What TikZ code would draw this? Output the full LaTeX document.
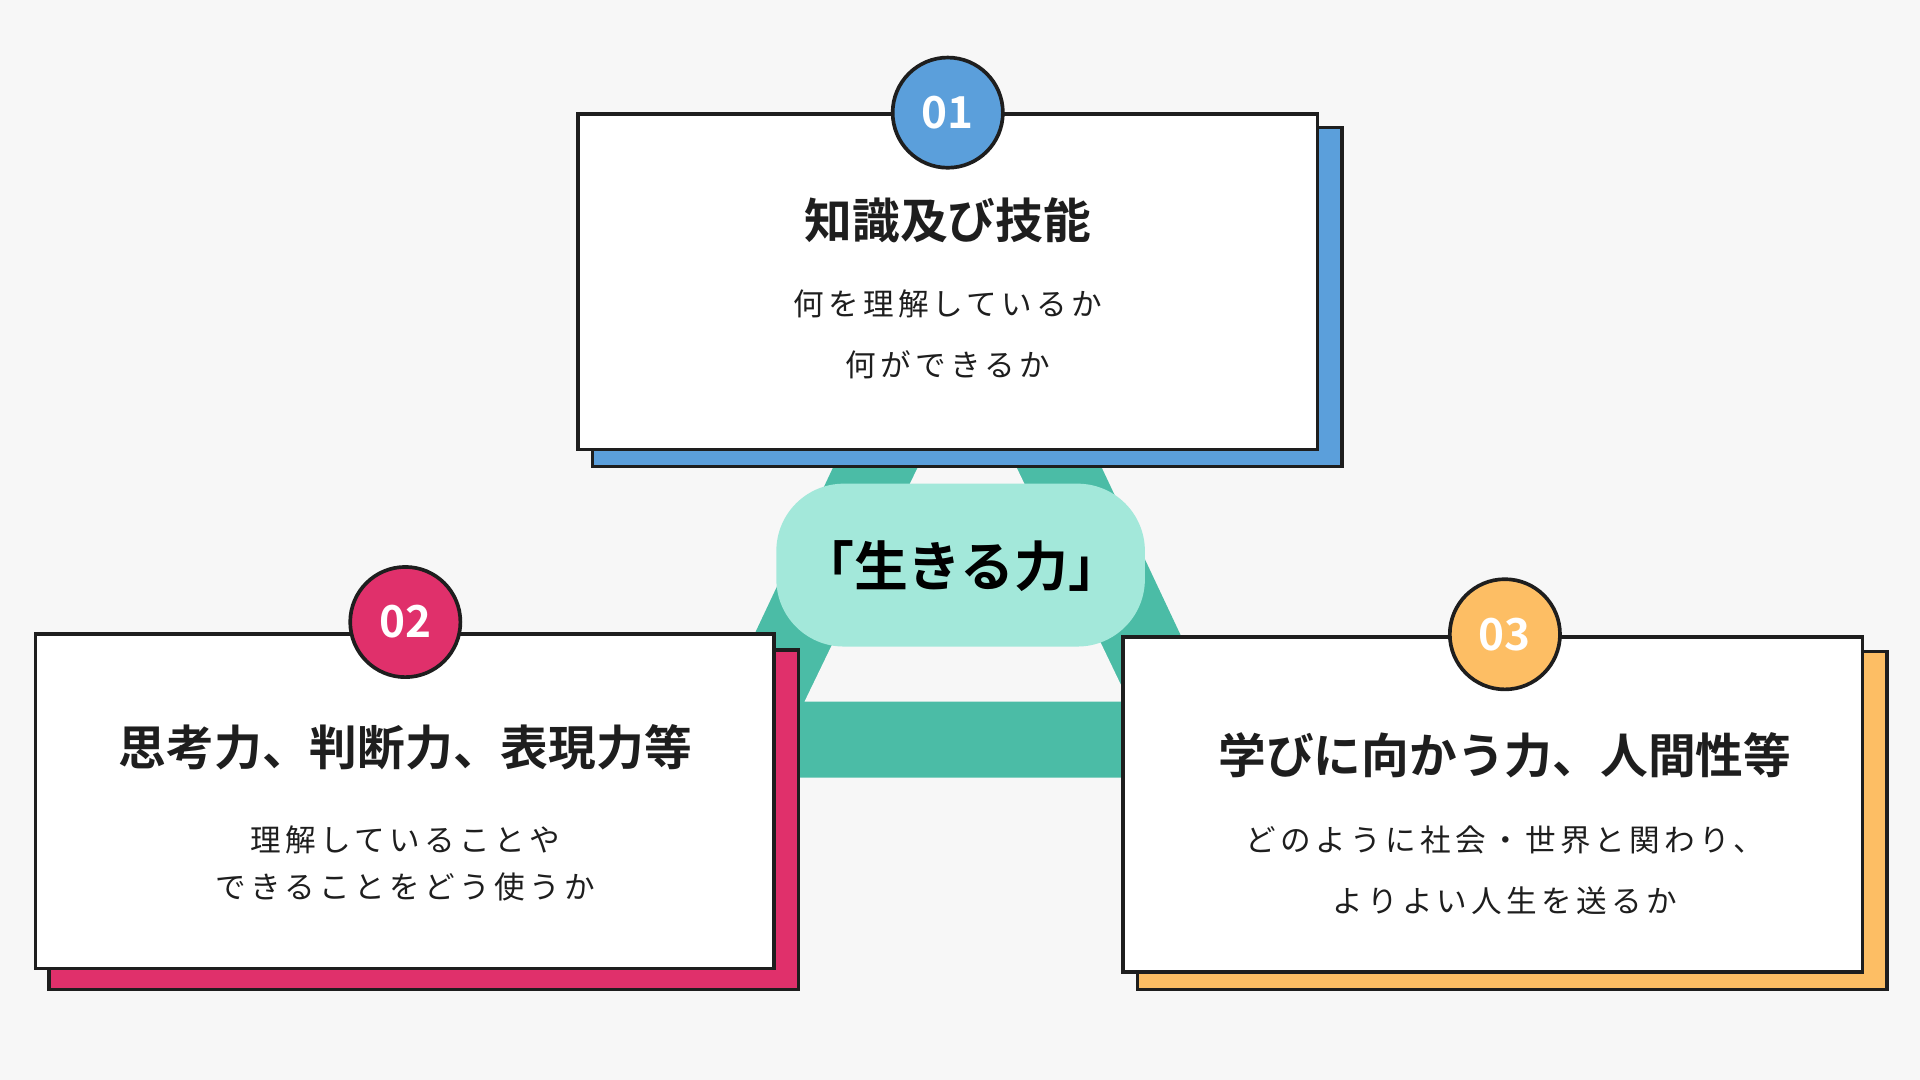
\documentclass[tikz,border=0pt]{standalone}
\usepackage{fontspec}
\setmainfont{Noto Sans CJK JP}[BoldFont={* Bold}]
\definecolor{bgGray}{HTML}{F7F7F7}
\definecolor{teal}{HTML}{4BBCA6}
\definecolor{mint}{HTML}{A3E8DA}
\definecolor{blueC}{HTML}{5B9FDB}
\definecolor{pinkC}{HTML}{E0306B}
\definecolor{yellowC}{HTML}{FDBE64}
\definecolor{inkC}{HTML}{1E1E1E}
\tikzset{
	card/.style={draw=inkC, line width=3pt, fill=white},
	shadow/.style={draw=inkC, line width=3pt},
	badge/.style={circle, draw=inkC, line width=3pt, minimum size=90pt, inner sep=0pt, text=white, font=\bfseries\fontsize{36}{36}\selectfont},
	title/.style={font=\bfseries\fontsize{39}{42}\selectfont, text=inkC},
	body/.style={font=\fontsize{25}{50}\selectfont\addfontfeature{LetterSpace=14}, text=inkC, align=center}}
\begin{document}
\begin{tikzpicture}[x=1pt,y=1pt,yscale=-1,xscale=1]
	%background
	\fill[bgGray] (0,0) rectangle (1568,882);
	\useasboundingbox (0,0) rectangle (1568,882);

	%triangle
	\fill[teal] (561,635) -- (1019,635) -- (790,149) -- cycle;
	\fill[bgGray] (657,573) -- (922,573) -- (790,298) -- cycle;

	%card 01
	\draw[shadow, fill=blueC] (484,104) rectangle (1096,381);
	\draw[card] (472,93) rectangle (1076,367);
	\node[badge, fill=blueC] (b1) at (774,92) {01};
	\node[title] (t1) at (774,180) {知識及び技能};
	\node[body] (d1) at (774,273) {何を理解しているか\\何ができるか};

	%card 02
	\draw[shadow, fill=pinkC] (40,531) rectangle (652,808);
	\draw[card] (29,518) rectangle (632,791);
	\node[badge, fill=pinkC] (b2) at (331,508) {02};
	\node[title] (t2) at (331,610) {思考力、判断力、表現力等};
	\node[body, font=\fontsize{25}{38}\selectfont\addfontfeature{LetterSpace=14}] (d2) at (331,705) {理解していることや\\できることをどう使うか};

	%card 03
	\draw[shadow, fill=yellowC] (929,532) rectangle (1541,808);
	\draw[card] (917,520) rectangle (1521,794);
	\node[badge, fill=yellowC] (b3) at (1229,518) {03};
	\node[title] (t3) at (1229,617) {学びに向かう力、人間性等};
	\node[body] (d3) at (1229,711) {どのように社会・世界と関わり、\\よりよい人生を送るか};

	%center
	\fill[mint, rounded corners=55pt] (634,395) rectangle (935,528);
	\node[font=\bfseries\fontsize{44}{44}\selectfont, text=black] (core) at (785,462) {「生きる力」};
\end{tikzpicture}
\end{document}
